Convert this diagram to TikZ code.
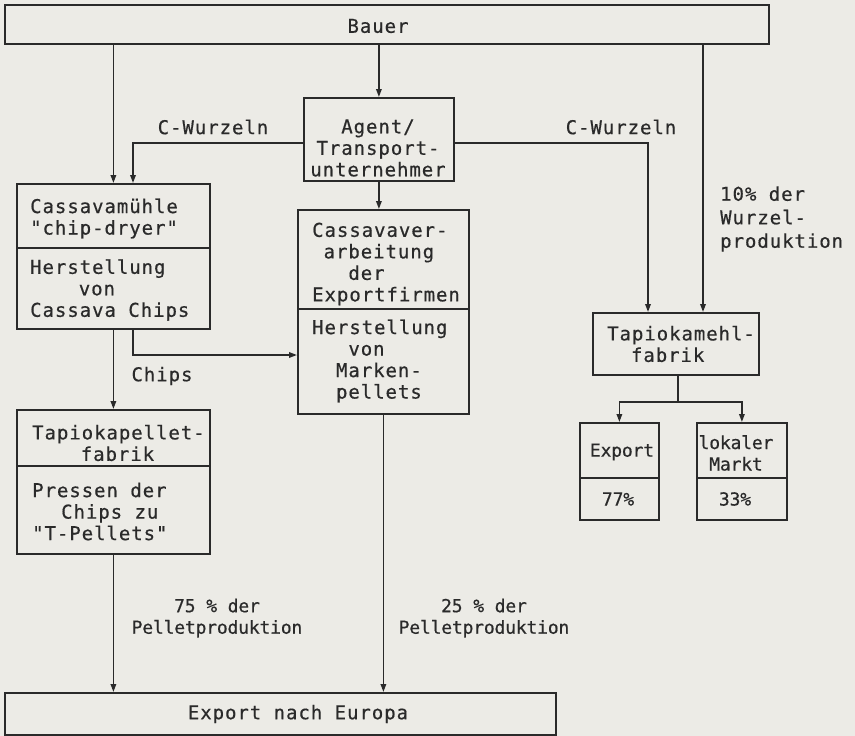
\documentclass[tikz,border=0pt]{standalone}
\usepackage{fontspec}
\usetikzlibrary{arrows.meta}
\newfontfamily\tw[LetterSpace=5,FakeBold=0.5]{DejaVu Sans Mono}
\newfontfamily\twl[LetterSpace=-1,FakeBold=0.5]{DejaVu Sans Mono}
\definecolor{paper}{HTML}{ECEBE6}
\definecolor{ink}{HTML}{2A2A2A}
\begin{document}
\begin{tikzpicture}[x=1pt,y=-1pt,
  box/.style={draw=ink, line width=1.8pt, inner sep=0pt, anchor=north west},
  txt/.style={text=ink, font=\tw\fontsize{19}{21.5}\selectfont, inner sep=0pt, align=center},
  txl/.style={txt, align=left, anchor=west},
  lbl/.style={text=ink, font=\twl\fontsize{18}{21.5}\selectfont, inner sep=0pt, align=center},
  conn/.style={draw=ink, line width=1.6pt, -{Triangle[length=8pt,width=5.5pt]}},
  plain/.style={draw=ink, line width=1.6pt}]
\fill[paper] (0,0) rectangle (855,736);
\useasboundingbox (0,0) rectangle (855,736);

% boxes
\node[box, minimum width=764pt, minimum height=39pt] (bauer) at (4,4) {};
\node[box, minimum width=150pt, minimum height=83pt] (agent) at (303,97) {};
\node[box, minimum width=193pt, minimum height=64pt] (mill) at (16,183) {};
\node[box, minimum width=193pt, minimum height=81pt] (chips) at (16,247) {};
\node[box, minimum width=193pt, minimum height=56pt] (pelfab) at (16,409) {};
\node[box, minimum width=193pt, minimum height=88pt] (press) at (16,465) {};
\node[box, minimum width=171pt, minimum height=99pt] (exfirm) at (297,209) {};
\node[box, minimum width=171pt, minimum height=105pt] (marken) at (297,308) {};
\node[box, minimum width=166pt, minimum height=62pt] (tmf) at (592,312) {};
\node[box, minimum width=79pt, minimum height=55pt] (export) at (579,422) {};
\node[box, minimum width=79pt, minimum height=42pt] (exportp) at (579,477) {};
\node[box, minimum width=90pt, minimum height=55pt] (local) at (696,422) {};
\node[box, minimum width=90pt, minimum height=42pt] (localp) at (696,477) {};
\node[box, minimum width=551pt, minimum height=42pt] (europa) at (4,692) {};

% texts
\node[txt] (tbauer) at (378,26) {Bauer};
\node[txt] (tagent) at (378,148) {Agent/\\Transport-\\unternehmer};
\node[txt] (tcwl) at (213,127) {C-Wurzeln};
\node[txt] (tcwr) at (621,127) {C-Wurzeln};
\node[txl] (tmill) at (30,218.5) {Cassavamühle\\"chip-dryer"};
\node[txl] (tchips) at (30,290) {Herstellung\\\phantom{xxxx}von\\Cassava Chips};
\node[txt] (tchipslbl) at (162,376) {Chips};
\node[txl] (tpelfab) at (32,443) {Tapiokapellet-\\\phantom{xxxx}fabrik};
\node[txl] (tpress) at (32,511.5) {Pressen der\\\hspace*{29pt}Chips zu\\"T-Pellets"};
\node[txl] (texfirm) at (312,264) {Cassavaver-\\\phantom{x}arbeitung\\\phantom{xxx}der\\Exportfirmen};
\node[txl] (tmarken) at (312,361) {Herstellung\\\phantom{xxx}von\\\phantom{xx}Marken-\\\phantom{xx}pellets};
\node[txl] (ttmf) at (607,344) {Tapiokamehl-\\\phantom{xx}fabrik};
\node[lbl] (texport) at (622,452) {Export};
\node[lbl] (tlocal) at (736,453) {lokaler\\Markt};
\node[lbl] (t77) at (618,499) {77\%};
\node[lbl] (t33) at (735,499) {33\%};
\node[txl, font=\tw\fontsize{19}{23.5}\selectfont] (twurz) at (720,219) {10\% der\\Wurzel-\\produktion};
\node[lbl] (t75) at (217,618) {75 \% der\\Pelletproduktion};
\node[lbl] (t25) at (484,618) {25 \% der\\Pelletproduktion};
\node[txt] (teuropa) at (298,714) {Export nach Europa};

% helper coordinates
\coordinate (r1) at (703,0);
\coordinate (cwl) at (133,143);
\coordinate (cwr) at (648,143);
\coordinate (ch) at (133,355);
\coordinate (tb) at (678,402);

% connectors
\draw[conn] (mill.north |- bauer.south) -- (mill.north);
\draw[conn] (agent.north |- bauer.south) -- (agent.north);
\draw[conn] (bauer.south -| r1) -- (tmf.north -| r1);
\draw[conn] (agent.west |- cwl) -- (cwl) -- (mill.north -| cwl);
\draw[conn] (agent.east |- cwr) -- (cwr) -- (tmf.north -| cwr);
\draw[conn] (agent.south) -- (agent.south |- exfirm.north);
\draw[conn] (chips.south) -- (pelfab.north);
\draw[conn] (chips.south -| ch) -- (ch) -- (marken.west |- ch);
\draw[conn] (press.south) -- (press.south |- europa.north);
\draw[conn] (marken.south) -- (marken.south |- europa.north);
\draw[plain] (tmf.south -| tb) -- (tb);
\draw[conn] (tb) -| (export.north);
\draw[conn] (tb) -| (local.north);
\end{tikzpicture}
\end{document}
